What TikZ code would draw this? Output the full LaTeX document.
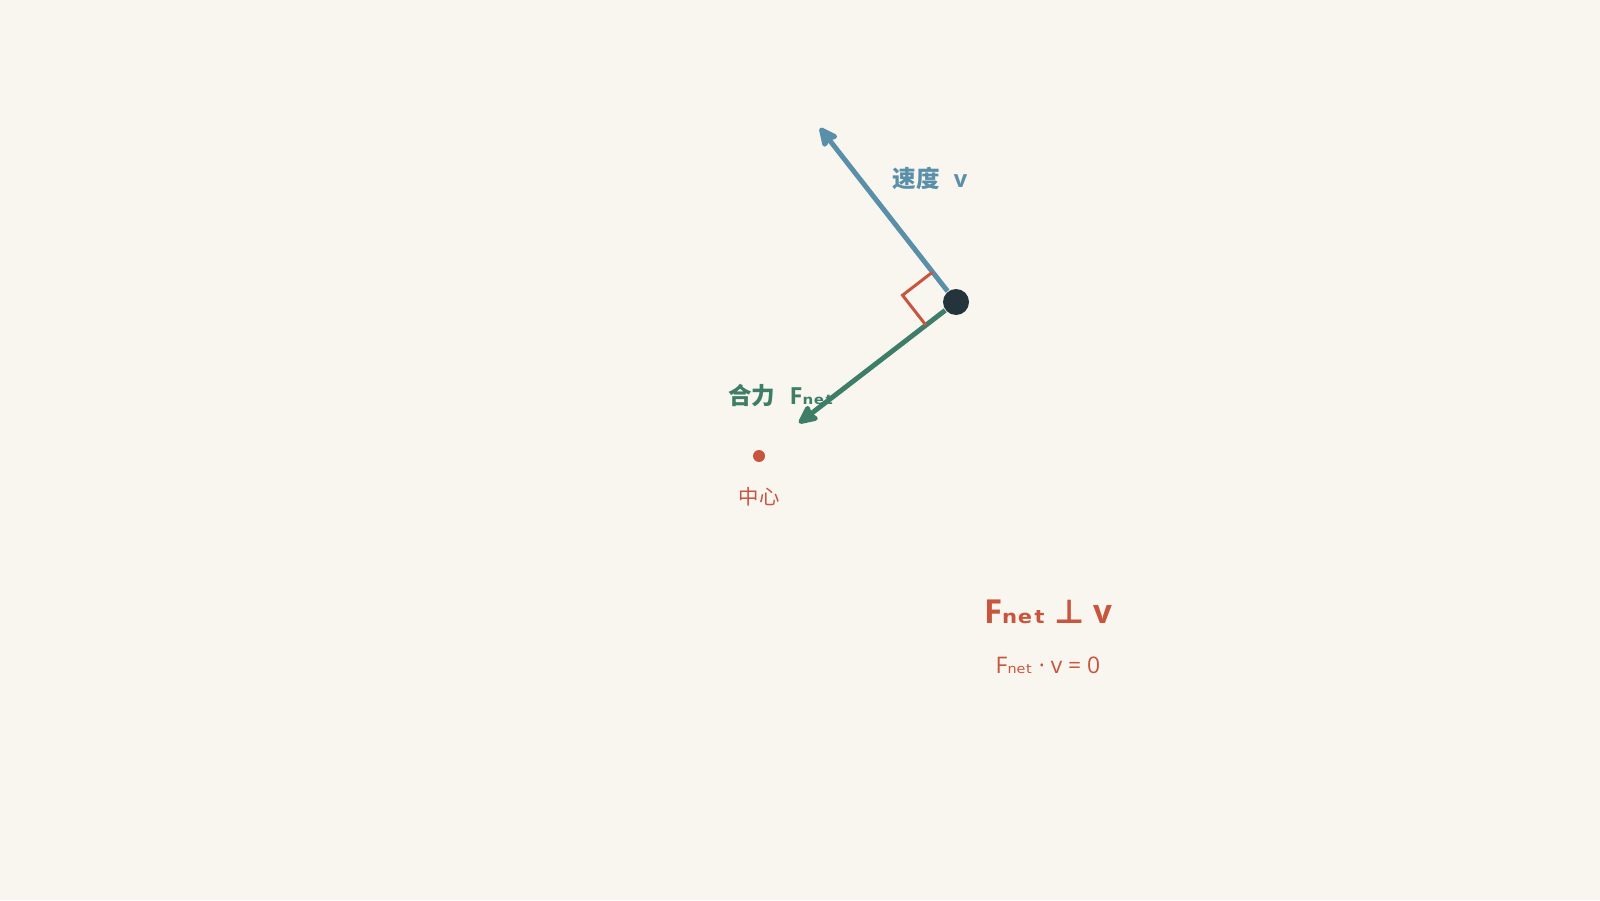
\documentclass[tikz,border=0pt]{standalone}
\usepackage{fontspec}
\setmainfont{Open Sans}
\newfontfamily\cjk{Noto Sans CJK SC}
\newfontfamily\symfont{DejaVu Sans}
\usetikzlibrary{calc,arrows.meta,positioning}
\definecolor{bgcream}{HTML}{F9F6F0}
\definecolor{velblue}{HTML}{5A8FAA}
\definecolor{forcegreen}{HTML}{3E7E68}
\definecolor{markred}{HTML}{C8553D}
\definecolor{balldark}{HTML}{24343D}
\newcommand{\Fnet}{F{\symfont ₙₑₜ}}

\begin{document}
\begin{tikzpicture}[
    vec/.style={line width=1.4pt,-{Stealth[length=6.5pt,width=6pt,inset=1pt,round]}},
    lbl/.style={font=\fontsize{6.7}{8}\selectfont\bfseries},
]
            \fill[bgcream] (0,0) rectangle (16,9);
            \useasboundingbox (0,0) rectangle (16,9);
            \coordinate (vtip) at (8.20,7.72);
            \coordinate (ftip) at (7.99,4.77);
            \node[circle,fill=balldark,minimum size=0.26cm,inner sep=0] (ball) at (9.56,5.98) {};
            \node[circle,fill=markred,minimum size=0.12cm,inner sep=0] (center) at (7.59,4.44) {};
            \draw[vec,velblue] (ball) -- (vtip);
            \draw[vec,forcegreen] (ball) -- (ftip);
            % right angle between v and F
            \coordinate (va) at ($(ball)!0.38cm!(vtip)$);
            \coordinate (fa) at ($(ball)!0.38cm!(ftip)$);
            \draw[markred,line width=0.85pt] (va) -- ($(va)+(fa)-(ball)$) -- (fa);
            \node[lbl,velblue] (vlabel) at (9.30,7.22) {{\cjk 速度}\hspace{0.6em}v};
            \node[lbl,forcegreen] (flabel) at (7.81,5.04) {{\cjk 合力}\hspace{0.6em}\Fnet};
            \node[markred,font=\fontsize{5.8}{7}\selectfont\cjk,below=0.12cm of center] (centerlabel) {中心};
            \node[markred,font=\fontsize{9.4}{11}\selectfont\bfseries] (perp) at (10.48,2.88) {\Fnet\ {\symfont ⊥} v};
            \node[markred,font=\fontsize{6.5}{8}\selectfont,below=0.08cm of perp] (dotzero) {\Fnet\ · v = 0};
        \end{tikzpicture}
\end{document}
